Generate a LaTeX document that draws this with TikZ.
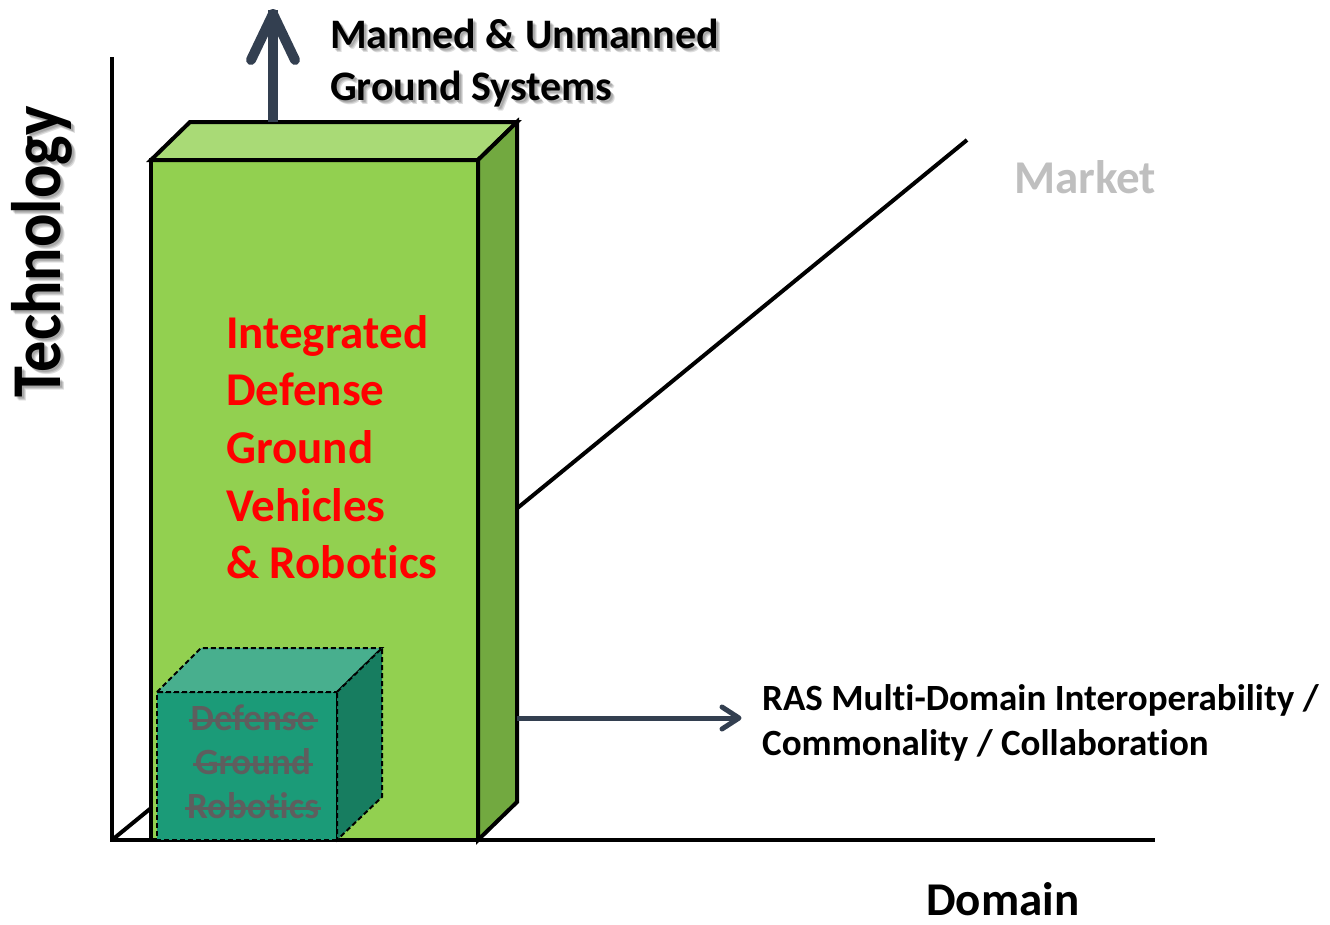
\documentclass[tikz,border=0pt]{standalone}
\usepackage{fontspec}
\setmainfont{Carlito}[Ligatures=NoCommon]
\newfontfamily\techfont{Carlito}[Ligatures=NoCommon, FakeStretch=0.89]
\definecolor{arrowc}{HTML}{333F50}
\definecolor{gtop}{HTML}{A9DA76}
\definecolor{gfront}{HTML}{92D050}
\definecolor{gside}{HTML}{72A940}
\definecolor{ttop}{HTML}{48AF8E}
\definecolor{tfront}{HTML}{1B9B78}
\definecolor{tside}{HTML}{177D60}
\definecolor{strikegray}{HTML}{5E5E5E}
\definecolor{marketgray}{HTML}{BFBFBF}
\begin{document}
\begin{tikzpicture}[x=1pt,y=-1pt,
  axisline/.style={line width=4pt, black, line cap=butt},
  boxedge/.style={draw=black, line width=4pt, line join=miter},
  cubeedge/.style={draw=black, line width=2pt, dash pattern=on 5pt off 3pt},
  arr/.style={draw=arrowc, line cap=round, line join=round},
  redtxt/.style={anchor=base west, inner sep=0pt, text=red, font=\bfseries\fontsize{47}{47}\selectfont},
  toptxt/.style={anchor=base west, inner sep=0pt, font=\bfseries\fontsize{42}{42}\selectfont},
  rastxt/.style={anchor=base west, inner sep=0pt, font=\bfseries\fontsize{37}{37}\selectfont},
  cubetxt/.style={anchor=base, inner sep=0pt, text=strikegray, font=\bfseries\fontsize{37}{37}\selectfont},
  striker/.style={draw=strikegray, line width=3pt},
  shadowtxt/.style={text=black, opacity=0.13},
  techtxt/.style={anchor=base, inner sep=0pt, rotate=90, font=\techfont\bfseries\fontsize{70}{70}\selectfont}]
\useasboundingbox (0,0) rectangle (1330,924);

% axes
\coordinate (O) at (112,840);
\coordinate (Ytop) at (112,57);
\coordinate (Xend) at (1155,840);
\coordinate (Mend) at (967,140);
\draw[axisline] (Ytop) -- (O) -- (Xend);
\draw[axisline] (O) -- (Mend);

% big box
\coordinate (bfl) at (151,160);
\coordinate (bfr) at (478,160);
\coordinate (bbr) at (478,840);
\coordinate (bbl) at (151,840);
\coordinate (btl) at (190,122);
\coordinate (btr) at (517,122);
\coordinate (bsr) at (517,802);
\filldraw[boxedge, fill=gfront] (bfl) -- (bfr) -- (bbr) -- (bbl) -- cycle;
\filldraw[boxedge, fill=gtop] (bfl) -- (btl) -- (btr) -- (bfr) -- cycle;
\filldraw[boxedge, fill=gside] (bfr) -- (btr) -- (bsr) -- (bbr) -- cycle;

% small cube
\coordinate (cfl) at (157,692);
\coordinate (cfr) at (337,692);
\coordinate (cbr) at (337,840);
\coordinate (cbl) at (157,840);
\coordinate (ctl) at (201,648);
\coordinate (ctr) at (382,648);
\coordinate (csr) at (382,797);
\filldraw[cubeedge, fill=tfront] (cfl) -- (cfr) -- (cbr) -- (cbl) -- cycle;
\filldraw[cubeedge, fill=ttop] (cfl) -- (ctl) -- (ctr) -- (cfr) -- cycle;
\filldraw[cubeedge, fill=tside] (cfr) -- (ctr) -- (csr) -- (cbr) -- cycle;

\node[cubetxt] (cd) at (253,730) {Defense};
\node[cubetxt] (cg) at (253,774) {Ground};
\node[cubetxt] (cr) at (253,818) {Robotics};
\draw[striker] ([xshift=-2pt,yshift=10pt]cd.base west) -- ([xshift=2pt,yshift=10pt]cd.base east);
\draw[striker] ([xshift=-2pt,yshift=10pt]cg.base west) -- ([xshift=2pt,yshift=10pt]cg.base east);
\draw[striker] ([xshift=-2pt,yshift=10pt]cr.base west) -- ([xshift=2pt,yshift=10pt]cr.base east);

% red text
\node[redtxt] (r1) at (226,348) {Integrated};
\node[redtxt] (r2) at (226,405) {Defense};
\node[redtxt] (r3) at (226,463) {Ground};
\node[redtxt] (r4) at (226,521) {Vehicles};
\node[redtxt] (r5) at (226,578) {\& Robotics};

% top arrow
\coordinate (ua) at (273,122);
\coordinate (ut) at (273,14);
\coordinate (ul) at (251,60);
\coordinate (ur) at (295,60);
\draw[arr, line width=10pt, line cap=butt] (ua) -- ([yshift=4pt]ut);
\draw[arr, line width=10pt] (ul) -- (ut) -- (ur);

% right arrow
\coordinate (ra) at (517,718);
\coordinate (rt) at (739,718);
\coordinate (rl) at (722,707);
\coordinate (rr) at (722,729);
\draw[arr, line width=5pt, line cap=butt] (ra) -- (rt);
\draw[arr, line width=5pt] (rl) -- (rt) -- (rr);

% top label with shadow
\foreach \d in {2,3,4} {
  \node[toptxt, shadowtxt] (ms1\d) at (330+\d,48+\d) {Manned \& Unmanned};
  \node[toptxt, shadowtxt] (ms2\d) at (330+\d,100+\d) {Ground Systems};
}
\node[toptxt] (m1) at (330,48) {Manned \& Unmanned};
\node[toptxt] (m2) at (330,100) {Ground Systems};

% RAS label
\node[rastxt] (ras1) at (762,710) {RAS Multi-Domain Interoperability /};
\node[rastxt] (ras2) at (762,755) {Commonality / Collaboration};

% Market, Domain
\node[anchor=base west, inner sep=0pt, text=marketgray, font=\bfseries\fontsize{47}{47}\selectfont] (mk) at (1014,193) {Market};
\node[anchor=base west, inner sep=0pt, font=\bfseries\fontsize{47}{47}\selectfont] (dm) at (926,915) {Domain};

% Technology with shadow
\foreach \d in {2,3,4} {
  \node[techtxt, shadowtxt] (ts\d) at (60+\d,252+\d) {Technology};
}
\node[techtxt] (tech) at (60,252) {Technology};
\end{tikzpicture}
\end{document}
